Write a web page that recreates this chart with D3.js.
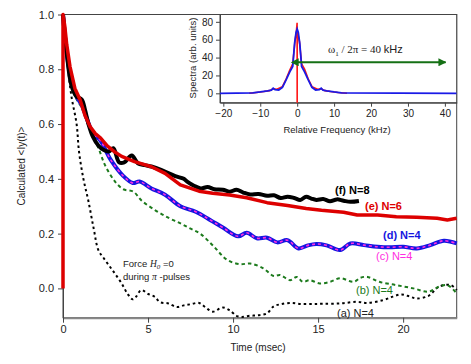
<!DOCTYPE html>
<html>
<head>
<meta charset="utf-8">
<script src="https://cdn.jsdelivr.net/npm/d3@7"></script>
<style>
  body { margin: 0; background: #fff; }
  svg { font-family: "Liberation Sans", Arial, sans-serif; }
</style>
</head>
<body>
<svg id="chart" width="471" height="364"></svg>
<script>
// ---- data ----
// main panel: time in msec, calculated <Iy(t)>
const tA = [0,0.15,0.3,0.5,0.8,0.94,1.2,1.49,1.8,2.08,2.4,2.76,3.1,3.45,3.8,4.1,4.3,4.6,5.0,5.4,5.7,6.2,6.7,7.1,7.5,8.0,8.4,8.8,9.4,9.8,10.2,10.5,11.0,11.5,12.0,12.4,12.8,13.4,14.0,14.7,15.3,16.3,17.3,17.9,18.8,19.4,19.9,20.4,20.8,21.5,22.1,22.8,23.15];
const vA = [1.0,0.9,0.8,0.7,0.6,0.5,0.4,0.32,0.22,0.14,0.11,0.079,0.05,0.018,-0.02,-0.04,-0.03,-0.006,-0.02,-0.031,-0.05,-0.055,-0.068,-0.062,-0.058,-0.053,-0.07,-0.085,-0.07,-0.08,-0.1,-0.104,-0.1,-0.098,-0.091,-0.065,-0.058,-0.053,-0.057,-0.057,-0.056,-0.055,-0.049,-0.053,-0.043,-0.03,-0.022,-0.03,-0.037,-0.027,0.006,0.012,-0.006];

const tB = [0,0.2,0.5,0.8,1.1,1.4,1.8,2.1,2.47,3.06,3.55,4.14,4.63,5.41,6.19,6.88,7.47,8.06,8.84,9.63,10.4,11.0,11.78,12.4,12.76,13.35,13.75,14.1,14.5,15.1,15.7,16.3,17.1,17.5,17.9,18.6,19.6,20.6,21.5,22.1,22.6,23.15];
const vB = [1.0,0.87,0.74,0.69,0.66,0.61,0.55,0.51,0.45,0.39,0.362,0.353,0.32,0.286,0.258,0.238,0.219,0.2,0.155,0.105,0.088,0.091,0.073,0.045,0.049,0.03,0.042,0.024,0.03,0.018,0.024,0.037,0.024,0.039,0.042,0.024,0.012,0.0,-0.012,0.006,0.012,-0.018];

const tD = [0,0.2,0.5,0.8,1.1,1.4,1.78,2.2,2.8,3.55,4.1,4.5,5.2,6.0,6.9,7.8,8.65,9.4,10.3,10.8,11.4,12.0,12.6,13.2,13.85,14.4,14.9,15.5,16.3,16.9,17.7,18.5,19.2,20.0,20.8,21.6,22.4,23.15];
const vD = [1.0,0.87,0.75,0.7,0.67,0.62,0.565,0.54,0.47,0.41,0.385,0.39,0.365,0.342,0.3,0.28,0.25,0.222,0.19,0.203,0.183,0.185,0.168,0.176,0.146,0.157,0.162,0.157,0.14,0.164,0.158,0.152,0.15,0.152,0.146,0.158,0.174,0.164];
const vC = [1.0,0.87,0.75,0.7,0.67,0.62,0.565,0.54,0.47,0.41,0.385,0.39,0.365,0.342,0.3,0.28,0.25,0.222,0.19,0.203,0.183,0.185,0.168,0.176,0.146,0.157,0.162,0.157,0.14,0.164,0.158,0.152,0.15,0.152,0.146,0.158,0.174,0.164];

const tE = [0,0,0.1,0.22,0.41,0.7,1.0,1.3,1.6,1.9,2.2,2.6,3.0,3.45,4.2,5.2,6.0,6.9,8.0,8.8,9.8,10.8,12.0,13.2,14.3,15.2,16.5,17.3,18.5,19.6,20.8,22.0,22.6,23.15];
const vE = [0,1.0,0.96,0.89,0.81,0.73,0.69,0.63,0.59,0.565,0.55,0.52,0.5,0.482,0.463,0.444,0.42,0.378,0.355,0.347,0.341,0.331,0.313,0.303,0.292,0.285,0.278,0.268,0.268,0.262,0.26,0.256,0.25,0.256];

const tF = [0,0.2,0.5,0.8,1.1,1.3,1.5,1.75,2.1,2.4,2.7,2.96,3.3,3.6,4.04,4.4,4.8,5.2,5.8,6.6,7.1,7.3,7.7,8.1,8.5,8.9,9.4,9.8,10.2,10.6,11.0,11.5,12.0,12.4,12.8,13.2,13.6,13.95,14.3,14.6,14.9,15.3,15.7,16.1,16.5,16.9,17.4];
const vF = [1.0,0.87,0.74,0.7,0.69,0.65,0.6,0.555,0.52,0.505,0.5,0.512,0.46,0.46,0.485,0.457,0.45,0.445,0.432,0.41,0.4,0.39,0.375,0.365,0.37,0.362,0.36,0.353,0.36,0.35,0.343,0.345,0.338,0.34,0.33,0.335,0.33,0.323,0.335,0.328,0.323,0.326,0.318,0.325,0.32,0.316,0.319];

const mainXTicks = [0, 5, 10, 15, 20];
const mainYTicks = [0.0, 0.2, 0.4, 0.6, 0.8, 1.0];

// inset: relative frequency (kHz), spectra (arb. units)
const fBlue = [-20.9,-12,-10,-8,-7,-6.5,-6,-5,-4,-3,-2,-1.2,-0.7,-0.3,0,0.3,0.7,1.2,2,3,4,5,6,6.5,7,8,10,12,43.2];
const sBlue = [0,0.5,1.5,2.7,3.5,5.6,4,3.7,6.7,15,24,30,56,68,72,68,56,30,24,15,6.7,3.7,4,5.6,3.5,2.7,1.5,0.5,0];
const fRed = [-13,-11,-9,-7.5,-6.5,-5.5,-4,-3,-2,-1.2,-0.6,-0.2,-0.02,0,0.02,0.2,0.6,1.2,2,3,4,5.5,6.5,7.5,9,11,13.5];
const sRed = [0,1,2,3,5,4.5,7.5,16,26,33,58,70,79,-12,70,66,58,33,27,16,7.5,4.5,5,3,2,1,0];

const insetXTicks = [-20, -10, 0, 10, 20, 30, 40];
const insetYTicks = [0, 20, 40, 60, 80];

// ---- setup ----
const svg = d3.select("#chart");
const ink = "#444";

const x = d3.scaleLinear().domain([0, 23.15]).range([63, 456.7]);
const y = d3.scaleLinear().domain([-0.107, 1.0]).range([317.7, 14.5]);

const zip = (ts, vs) => ts.map((t, i) => [t, vs[i]]);

// frame
svg.append("rect")
  .attr("x", x(0)).attr("y", y(1.0))
  .attr("width", x(23.15) - x(0)).attr("height", y(-0.107) - y(1.0))
  .attr("fill", "none").attr("stroke", ink).attr("stroke-width", 1);

// axes
const xAxis = svg.append("g")
  .attr("transform", "translate(0," + y(-0.107) + ")")
  .call(d3.axisBottom(x).tickValues(mainXTicks).tickSize(5).tickSizeOuter(0).tickPadding(3));
const yAxis = svg.append("g")
  .attr("transform", "translate(" + x(0) + ",0)")
  .call(d3.axisLeft(y).tickValues(mainYTicks).tickFormat(d3.format(".1f")).tickSize(5).tickSizeOuter(0).tickPadding(4));
[xAxis, yAxis].forEach(g => {
  g.select(".domain").attr("stroke", ink);
  g.selectAll(".tick line").attr("stroke", ink);
  g.selectAll(".tick text").attr("fill", "#222").style("font-size", "11px")
    .style("font-family", "Liberation Sans, Arial, sans-serif");
});
xAxis.select(".domain").attr("stroke", "#888").attr("stroke-width", 2);

svg.append("text")
  .attr("x", 258).attr("y", 351)
  .attr("text-anchor", "middle").style("font-size", "10px").attr("fill", "#222")
  .text("Time (msec)");
svg.append("text")
  .attr("transform", "translate(25,166) rotate(-90)")
  .attr("text-anchor", "middle").style("font-size", "10px").attr("fill", "#222")
  .text("Calculated <Iy(t)>");

// curves
const line = d3.line()
  .x(d => x(d[0])).y(d => y(d[1]))
  .curve(d3.curveCatmullRom.alpha(0.5));

const plot = svg.append("g");
plot.append("path").datum(zip(tA, vA))
  .attr("d", line).attr("fill", "none")
  .attr("stroke", "#000").attr("stroke-width", 2).attr("stroke-dasharray", "2.5,3");
plot.append("path").datum(zip(tB, vB))
  .attr("d", line).attr("fill", "none")
  .attr("stroke", "#1c7a1c").attr("stroke-width", 2).attr("stroke-dasharray", "3.5,3");
plot.append("path").datum(zip(tD, vD))
  .attr("d", line).attr("fill", "none")
  .attr("stroke", "#1515e0").attr("stroke-width", 4);
plot.append("path").datum(zip(tD, vC))
  .attr("d", line).attr("fill", "none")
  .attr("stroke", "#ff2ee0").attr("stroke-width", 1.6).attr("stroke-dasharray", "3,3");
plot.append("path").datum(zip(tF, vF))
  .attr("d", line).attr("fill", "none")
  .attr("stroke", "#000").attr("stroke-width", 4);
plot.append("path").datum(zip(tE, vE))
  .attr("d", d3.line().x(d => x(d[0])).y(d => y(d[1])).curve(d3.curveLinear))
  .attr("fill", "none")
  .attr("stroke", "#dd0000").attr("stroke-width", 3.5).attr("stroke-linejoin", "round");

// labels
const labels = [
  { t: "(f) N=8", x: 335, y: 194, c: "#000", w: "bold" },
  { t: "(e) N=6", x: 365, y: 210, c: "#dd0000", w: "bold" },
  { t: "(d) N=4", x: 383, y: 239, c: "#1515e0", w: "bold" },
  { t: "(c) N=4", x: 376, y: 260, c: "#ff2ee0", w: "normal" },
  { t: "(b) N=4", x: 356, y: 294, c: "#1c7a1c", w: "normal" },
  { t: "(a) N=4", x: 337, y: 317, c: "#222", w: "normal" }
];
svg.selectAll("text.lbl").data(labels).enter().append("text")
  .attr("class", "lbl")
  .attr("x", d => d.x).attr("y", d => d.y)
  .attr("fill", d => d.c).style("font-weight", d => d.w)
  .style("font-size", "11px")
  .text(d => d.t);

const note = svg.append("text").attr("x", 123).attr("y", 267)
  .style("font-size", "9.5px").attr("fill", "#222");
note.append("tspan").text("Force ");
note.append("tspan").style("font-family", "Liberation Serif, serif").style("font-style", "italic").text("H");
note.append("tspan").attr("dy", 2).style("font-size", "7px").style("font-family", "Liberation Serif, serif").style("font-style", "italic").text("0");
note.append("tspan").attr("dy", -2).text(" =0");
const note2 = svg.append("text").attr("x", 123).attr("y", 280)
  .style("font-size", "9.5px").attr("fill", "#222");
note2.append("tspan").text("during ");
note2.append("tspan").style("font-family", "Liberation Serif, serif").style("font-style", "italic").text("π");
note2.append("tspan").text(" -pulses");

// ---- inset ----
const xi = d3.scaleLinear().domain([-20.9, 43.2]).range([220, 456.7]);
const yi = d3.scaleLinear().domain([-10.5, 88.2]).range([102.7, 14.5]);

const inset = svg.append("g");
inset.append("rect")
  .attr("x", xi(-20.9)).attr("y", yi(88.2))
  .attr("width", xi(43.2) - xi(-20.9)).attr("height", yi(-10.5) - yi(88.2))
  .attr("fill", "#fff").attr("stroke", ink).attr("stroke-width", 1);
inset.append("clipPath").attr("id", "iclip").append("rect")
  .attr("x", xi(-20.9)).attr("y", yi(88.2))
  .attr("width", xi(43.2) - xi(-20.9)).attr("height", yi(-10.5) - yi(88.2));

const ixAxis = inset.append("g")
  .attr("transform", "translate(0," + yi(-10.5) + ")")
  .call(d3.axisBottom(xi).tickValues(insetXTicks).tickSize(4).tickSizeOuter(0).tickPadding(3));
const iyAxis = inset.append("g")
  .attr("transform", "translate(" + xi(-20.9) + ",0)")
  .call(d3.axisLeft(yi).tickValues(insetYTicks).tickSize(4).tickSizeOuter(0).tickPadding(3));
[ixAxis, iyAxis].forEach(g => {
  g.select(".domain").attr("stroke", ink);
  g.selectAll(".tick line").attr("stroke", ink);
  g.selectAll(".tick text").attr("fill", "#222").style("font-size", "10px")
    .style("font-family", "Liberation Sans, Arial, sans-serif");
});

inset.append("text")
  .attr("x", 337).attr("y", 133)
  .attr("text-anchor", "middle").style("font-size", "9.5px").attr("fill", "#222")
  .text("Relative Frequency (kHz)");
inset.append("text")
  .attr("transform", "translate(196,58) rotate(-90)")
  .attr("text-anchor", "middle").style("font-size", "9.5px").attr("fill", "#222")
  .text("Spectra (arb. units)");

const iline = d3.line().x(d => xi(d[0])).y(d => yi(d[1]));
const ig = inset.append("g").attr("clip-path", "url(#iclip)");
ig.append("path").datum(zip(fRed, sRed))
  .attr("d", iline).attr("fill", "none")
  .attr("stroke", "#ff1a1a").attr("stroke-width", 1.6);
ig.append("path").datum(zip(fBlue, sBlue))
  .attr("d", iline).attr("fill", "none")
  .attr("stroke", "#1a1ae6").attr("stroke-width", 1.8);

// arrow
const defs = svg.append("defs");
["start", "end"].forEach(k => {
  defs.append("marker").attr("id", "ah-" + k)
    .attr("viewBox", "0 0 10 10").attr("refX", k === "end" ? 9 : 1).attr("refY", 5)
    .attr("markerWidth", 4).attr("markerHeight", 4)
    .attr("orient", k === "end" ? "auto" : "auto-start-reverse")
    .append("path").attr("d", "M0,0 L10,5 L0,10 z").attr("fill", "#157015");
});
inset.append("line")
  .attr("x1", xi(0.2)).attr("x2", xi(40.2))
  .attr("y1", 62.3).attr("y2", 62.3)
  .attr("stroke", "#157015").attr("stroke-width", 2)
  .attr("marker-start", "url(#ah-start)").attr("marker-end", "url(#ah-end)");

const om = inset.append("text").attr("x", 328).attr("y", 53)
  .style("font-size", "11px").attr("fill", "#222");
om.append("tspan").style("font-family", "Liberation Serif, serif").text("ω");
om.append("tspan").attr("dy", 2.5).style("font-size", "7px").style("font-family", "Liberation Serif, serif").text("1");
om.append("tspan").attr("dy", -2.5).style("font-family", "Liberation Serif, serif").text(" / 2π = 40 ");
om.append("tspan").text("kHz");
</script>
</body>
</html>
